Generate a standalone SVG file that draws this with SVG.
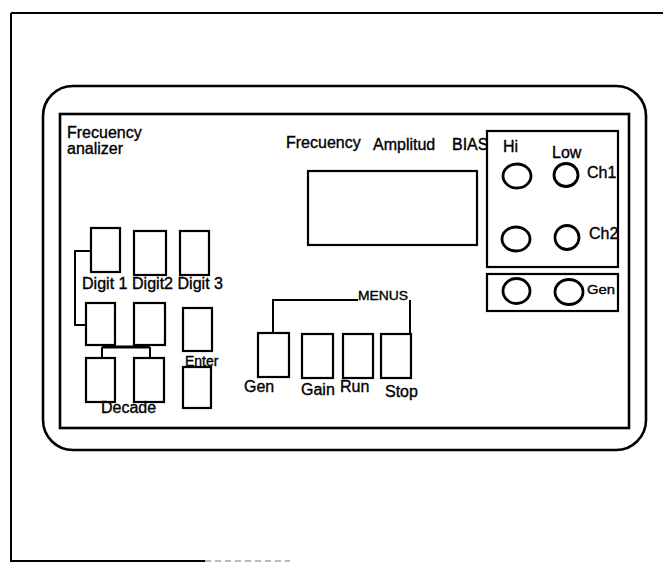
<svg xmlns="http://www.w3.org/2000/svg" width="663" height="563" viewBox="0 0 663 563">
<style>
.b{fill:none;stroke:#000;stroke-width:2.2}
.p{fill:none;stroke:#000;stroke-width:2.6}
.c{fill:none;stroke:#000;stroke-width:2.8}
.w{fill:none;stroke:#000;stroke-width:2}
text{font-family:"Liberation Sans",Arial,sans-serif;font-size:16px;fill:#000;stroke:#000;stroke-width:0.35}
</style>
<rect width="663" height="563" fill="#fff"/>
<g id="frame">
<path class="w" d="M11,13 H663 M11,13 V562 M11,561 H205"/>
<path d="M205,561 H290" fill="none" stroke="#777" stroke-width="1" stroke-dasharray="6 4"/>
</g>
<g id="panel">
<rect class="p" x="43" y="86" width="603" height="364" rx="30" ry="30"/>
<rect class="p" x="60" y="114" width="569" height="314"/>
</g>
<g id="title">
<text x="67" y="138">Frecuency</text>
<text x="67" y="154">analizer</text>
</g>
<g id="display">
<text x="286" y="148">Frecuency</text>
<text x="373" y="150">Amplitud</text>
<text x="452" y="150">BIAS</text>
<rect class="b" x="308" y="171" width="169" height="74"/>
</g>
<g id="inputs">
<rect class="b" x="487" y="131" width="131" height="136"/>
<text x="503" y="152">Hi</text>
<text x="552" y="158">Low</text>
<ellipse class="c" cx="517" cy="176" rx="14" ry="12"/>
<ellipse class="c" cx="566" cy="175" rx="12" ry="11.5"/>
<text x="587" y="178">Ch1</text>
<ellipse class="c" cx="516" cy="239" rx="14" ry="12"/>
<ellipse class="c" cx="567" cy="237.5" rx="12" ry="12"/>
<text x="589" y="239">Ch2</text>
</g>
<g id="gen-out">
<rect class="b" x="487" y="274" width="131" height="37"/>
<ellipse class="c" cx="516.5" cy="291" rx="13.5" ry="12.5"/>
<ellipse class="c" cx="569" cy="292" rx="14" ry="12.5"/>
<text x="587" y="294" font-size="13" style="font-size:13px" textLength="28" lengthAdjust="spacingAndGlyphs">Gen</text>
</g>
<g id="digits">
<rect class="b" x="91" y="228" width="29" height="44"/>
<rect class="b" x="134" y="231" width="32" height="44"/>
<rect class="b" x="180" y="231" width="29" height="44"/>
<text x="82" y="289" textLength="141" lengthAdjust="spacingAndGlyphs">Digit 1 Digit2 Digit 3</text>
</g>
<g id="updown">
<rect class="b" x="86" y="303" width="29" height="42"/>
<rect class="b" x="134" y="303" width="31" height="42"/>
</g>
<g id="decade">
<rect class="b" x="86" y="358" width="29" height="44"/>
<rect class="b" x="134" y="358" width="30" height="44"/>
<text x="101" y="413">Decade</text>
</g>
<g id="enter">
<rect class="b" x="183" y="308" width="29" height="43"/>
<text x="185" y="366" style="font-size:14px">Enter</text>
<rect class="b" x="183" y="367" width="28" height="41"/>
</g>
<g id="menus">
<rect class="b" x="258" y="333" width="31" height="44"/>
<rect class="b" x="302" y="334" width="31" height="44"/>
<rect class="b" x="343" y="334" width="30" height="44"/>
<rect class="b" x="381" y="334" width="30" height="44"/>
<text x="244" y="392">Gen</text>
<text x="301" y="395">Gain</text>
<text x="340" y="392">Run</text>
<text x="385" y="397">Stop</text>
<text x="358" y="300" style="font-size:12px" textLength="50" lengthAdjust="spacingAndGlyphs">MENUS</text>
</g>
<g id="connectors">
<path class="w" d="M91,251 H75 V325 H86"/>
<path class="c" d="M102,347 H150"/>
<path class="w" d="M102,347 V358 M150,347 V358"/>
<path class="w" d="M273,333 V300 H358"/>
<path class="w" d="M410,300 V334"/>
</g>
</svg>
